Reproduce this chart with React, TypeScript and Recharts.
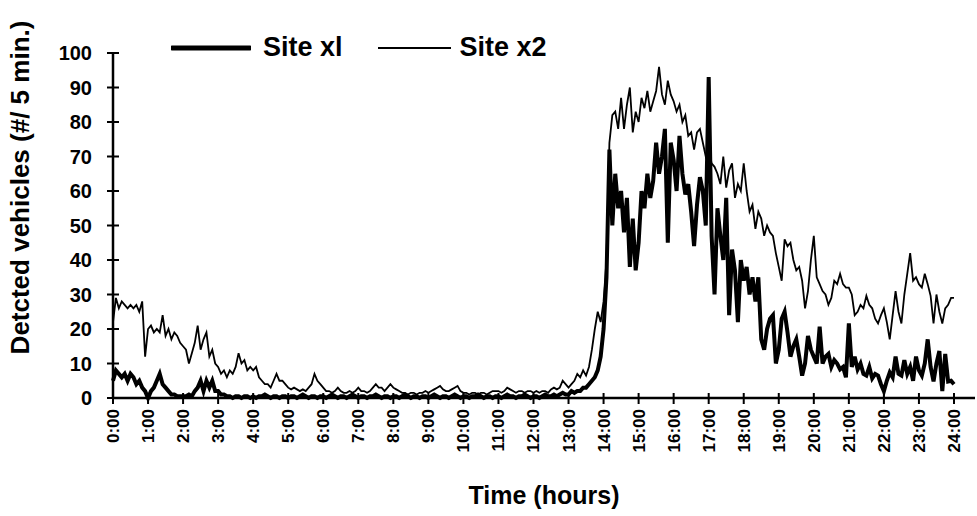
import { Legend, Line, LineChart, XAxis, YAxis } from "recharts";

// Detected vehicles per 5 minutes, one row per hour (00, 05, ... 55 min)
const siteX1: number[] = [
  5, 8, 7, 6, 7, 5, 7, 6, 4, 5, 3, 2,
  0, 2, 3, 5, 7, 4, 3, 2, 1, 1, 0.5, 0.5,
  0.5, 0.5, 1, 0.5, 2, 3, 5, 2, 5, 3, 5, 2,
  2, 1, 1, 0.5, 0.5, 0, 0.5, 0.5, 0, 0.5, 0.5, 0,
  0.5, 0, 0.5, 0.5, 1, 0.5, 0, 0.5, 0.5, 0, 0.5, 0.5,
  0, 0.5, 0.5, 0, 0.5, 1, 0.5, 0, 0.5, 0.5, 0, 0.5,
  0.5, 0, 0.5, 1, 0.5, 0, 0.5, 0.5, 0, 0.5, 1, 0.5,
  0, 0.5, 0.5, 0, 0.5, 0.5, 1, 0.5, 0, 0.5, 0.5, 0,
  0.5, 0.5, 0, 0.5, 1, 0.5, 0, 0.5, 0.5, 0, 0.5, 0.5,
  0, 0.5, 1, 0.5, 0, 0.5, 0.5, 0, 0.5, 1, 0.5, 0,
  0.5, 0.5, 0, 0.5, 0.5, 1, 0.5, 0, 0.5, 0.5, 0, 0.5,
  0.5, 0, 0.5, 1, 0.5, 0.5, 0, 0.5, 0.5, 1, 0.5, 0,
  0.5, 0.5, 0, 0.5, 1, 0.5, 0.5, 1, 0.5, 1, 1.5, 1,
  1, 2, 1.5, 2, 2, 3, 3, 4, 5, 6, 8, 12,
  20, 35, 72, 50, 65, 55, 60, 48, 58, 38, 52, 37,
  45, 60, 55, 65, 58, 63, 74, 65, 70, 78, 45, 74,
  69, 60, 76, 65, 59, 62, 54, 44, 56, 64, 60, 50,
  93, 47, 30, 55, 47, 40, 58, 24, 43, 37, 22, 40,
  34, 38, 30, 35, 28, 35, 17, 14, 20, 23, 24, 10,
  14, 23, 25, 19, 12, 15, 17, 12, 6.5, 10, 18, 14,
  12, 10, 20.7, 10, 12, 12.8, 9, 11, 10, 8.3, 9, 6,
  21.6, 9, 12, 8.3, 10, 7, 6.5, 9, 5.7, 7, 6.5, 4,
  2, 5, 7.4, 6, 12, 7, 6.5, 11, 7, 9, 5, 12,
  8, 6.5, 10, 17, 9, 4.8, 10, 13.6, 2, 12.8, 4.8, 5,
  4,
];

const siteX2: number[] = [
  22, 29, 26, 28, 27, 26, 27, 26, 27, 25, 28, 12,
  20, 21, 19, 20, 19, 24, 18, 20, 17, 19, 18, 16,
  15, 14, 10, 13, 16, 21, 14, 17, 19, 12, 14, 10,
  9, 7, 8, 6, 8, 7, 9, 13, 10, 11, 8, 9,
  8, 9, 6, 5, 4, 4, 3, 5, 7, 5, 5, 4,
  3, 2.5, 3, 2.5, 2, 2.5, 2, 3, 4, 7, 5, 4,
  3, 2, 2, 1.5, 2, 3, 2, 1.5, 1.5, 2, 1.5, 2,
  3, 2, 2, 1.5, 2, 3, 4, 3, 3, 2, 3, 4,
  3, 2.5, 2, 1.5, 1.5, 1, 1.5, 1.5, 1, 1.5, 1.5, 2,
  1.5, 2, 2.5, 3, 3.5, 2.5, 2, 2, 2.5, 3, 3.5, 2,
  1.5, 1.5, 1, 1.5, 1.5, 1, 1.5, 1.5, 1, 1.5, 2, 2,
  2, 1.5, 2, 3, 2.5, 2, 1.5, 2, 2, 1.5, 2, 2,
  1.5, 2, 1.5, 2, 2, 1.5, 2.5, 3, 2.5, 3, 5, 4,
  3, 4, 5, 7, 6, 8, 6.5, 9, 14, 20, 25, 22,
  28, 40, 74, 82, 83, 78, 87, 78, 85, 90, 77, 83,
  80, 87, 84, 89, 83, 86, 89, 96, 88, 85, 92, 88,
  86, 83, 85, 80, 82, 76, 77, 72, 77, 78, 74, 70,
  72, 68, 67, 65, 62, 70, 61, 66, 68, 58, 62, 60,
  68, 60, 54, 56, 49, 54, 52, 47, 50, 48, 47, 42,
  38, 34, 46, 44, 45, 40, 37, 38, 34, 26, 31, 40,
  47, 35, 33, 31, 30, 27, 29, 34, 33, 36, 33, 32,
  32, 30, 24, 25, 27, 26, 29.6, 27, 26, 23, 21.6, 24,
  26, 22, 17, 24, 31, 25, 21.6, 30, 36, 42, 34, 35,
  33, 32, 36, 33, 29.6, 21.6, 30, 25, 21.6, 26, 27, 29,
  29,
];

const hourTicks = [0, 1, 2, 3, 4, 5, 6, 7, 8, 9, 10, 11, 12, 13, 14, 15, 16, 17, 18, 19, 20, 21, 22, 23, 24];
const valueTicks = [0, 10, 20, 30, 40, 50, 60, 70, 80, 90, 100];

const FONT = "'Liberation Sans', Arial, Helvetica, sans-serif";

const data = siteX1.map((v, i) => ({ t: i / 12, x1: v, x2: siteX2[i] }));

function XTick(props: any) {
  const { x, y, payload } = props;
  return (
    <g>
      <line x1={x} x2={x} y1={y - 5} y2={y + 6} stroke="#000" strokeWidth={2} />
      <text
        x={0}
        y={0}
        transform={`translate(${x + 6},${y + 11}) rotate(-90)`}
        textAnchor="end"
        fontFamily={FONT}
        fontWeight="bold"
        fontSize={17}
        fill="#000"
      >
        {`${payload.value}:00`}
      </text>
    </g>
  );
}

function YTick(props: any) {
  const { x, y, payload } = props;
  return (
    <g>
      <line x1={x - 6} x2={x + 6} y1={y} y2={y} stroke="#000" strokeWidth={2} />
      <text
        x={x - 21}
        y={y + 7}
        textAnchor="end"
        fontFamily={FONT}
        fontWeight="bold"
        fontSize={20}
        fill="#000"
      >
        {payload.value}
      </text>
    </g>
  );
}

function LegendBox() {
  return (
    <div style={{ display: "flex", alignItems: "center", fontFamily: FONT, fontWeight: "bold", fontSize: 27, color: "#000" }}>
      <svg width={80} height={10} style={{ marginRight: 12 }}>
        <line x1={1} x2={79} y1={5} y2={5} stroke="#000" strokeWidth={5} strokeLinecap="round" />
      </svg>
      <span style={{ marginRight: 34 }}>Site xl</span>
      <svg width={75} height={10} style={{ marginRight: 8 }}>
        <line x1={1} x2={74} y1={5} y2={5} stroke="#000" strokeWidth={2} />
      </svg>
      <span>Site x2</span>
    </div>
  );
}

export default function App() {
  return (
    <div style={{ position: "absolute", left: 0, top: 0, width: 977, height: 516, background: "#fff" }}>
      <LineChart width={977} height={516} data={data} margin={{ top: 22, right: 2, bottom: 0, left: 0 }}>
        <XAxis
          dataKey="t"
          type="number"
          domain={[0, 24.6]}
          ticks={hourTicks}
          interval={0}
          height={118}
          tickLine={false}
          tickSize={0}
          tickMargin={0}
          tick={<XTick />}
          axisLine={{ stroke: "#000", strokeWidth: 2.5 }}
          label={{
            value: "Time (hours)",
            position: "insideBottom",
            offset: 12,
            style: { fontFamily: FONT, fontWeight: "bold", fontSize: 25, fill: "#000" },
          }}
        />
        <YAxis
          type="number"
          domain={[0, 100]}
          ticks={valueTicks}
          interval={0}
          width={113}
          tickLine={false}
          tickSize={0}
          tickMargin={0}
          tick={<YTick />}
          axisLine={{ stroke: "#000", strokeWidth: 2.5 }}
          label={{
            value: "Detcted vehicles (#/ 5 min.)",
            angle: -90,
            position: "insideLeft",
            offset: 20,
            dy: -38,
            style: { textAnchor: "middle", fontFamily: FONT, fontWeight: "bold", fontSize: 26, fill: "#000" },
          }}
        />
        <Legend
          verticalAlign="top"
          align="left"
          content={() => <LegendBox />}
          wrapperStyle={{ position: "absolute", top: 32, left: 171, width: "auto" }}
        />
        <Line
          dataKey="x2"
          type="linear"
          stroke="#000"
          strokeWidth={1.8}
          dot={false}
          isAnimationActive={false}
        />
        <Line
          dataKey="x1"
          type="linear"
          stroke="#000"
          strokeWidth={4}
          dot={false}
          isAnimationActive={false}
        />
      </LineChart>
    </div>
  );
}
